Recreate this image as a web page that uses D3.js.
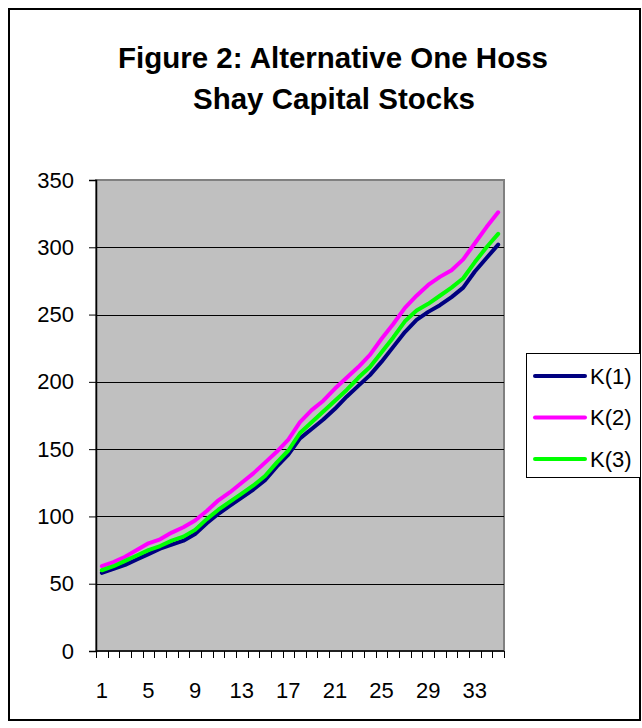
<!DOCTYPE html>
<html>
<head>
<meta charset="utf-8" />
<title>Figure 2</title>
<script src="https://cdn.jsdelivr.net/npm/d3@7"></script>
<style>
  html, body { margin: 0; padding: 0; background: #fff; }
  svg { display: block; font-family: "Liberation Sans", Arial, sans-serif; }
</style>
</head>
<body>
<div id="chart"></div>
<script>
// periods 1..35
const periods = d3.range(1, 36);
const k1 = [58, 61, 64, 68, 72, 76, 79, 82, 87, 95, 102, 108, 114, 120, 127, 137, 146, 158, 165, 172,
            180, 189, 197, 205, 215, 226, 237, 246, 252, 257, 263, 270, 282, 292, 302];
const k2 = [63, 66, 70, 75, 80, 83, 88, 92, 97, 104, 112, 118, 125, 132, 140, 148, 157, 170, 179, 186,
            195, 203, 211, 220, 232, 243, 255, 264, 272, 278, 283, 291, 303, 315, 326];
const k3 = [60, 63, 67, 71, 75, 78, 82, 85, 90, 98, 105, 111, 117, 123, 130, 140, 149, 162, 170, 178,
            186, 194, 203, 211, 222, 233, 245, 253, 258, 264, 270, 277, 289, 300, 310];
const seriesNames = ["K(1)", "K(2)", "K(3)"];
const seriesColors = ["#000080", "#ff00ff", "#00ff00"];
const yTicks = [0, 50, 100, 150, 200, 250, 300, 350];
const xLabels = [1, 5, 9, 13, 17, 21, 25, 29, 33];

const W = 642, H = 728;
const plot = {left: 96, right: 504, top: 180, bottom: 651};

const svg = d3.select("#chart").append("svg")
    .attr("width", W)
    .attr("height", H);

// outer frame
svg.append("rect")
    .attr("x", 9).attr("y", 9)
    .attr("width", 631).attr("height", 711)
    .attr("fill", "#fff")
    .attr("stroke", "#000")
    .attr("stroke-width", 2);

// title
const title = svg.append("text")
    .attr("text-anchor", "middle")
    .attr("font-weight", "bold")
    .attr("font-size", 29.5);
title.append("tspan").attr("x", 333).attr("y", 68).text("Figure 2: Alternative One Hoss");
title.append("tspan").attr("x", 334).attr("y", 109).text("Shay Capital Stocks");

const x = d3.scaleBand()
    .domain(periods)
    .range([plot.left, plot.right]);

const y = d3.scaleLinear()
    .domain([0, 350])
    .range([plot.bottom, plot.top]);

// plot background
svg.append("rect")
    .attr("x", plot.left).attr("y", plot.top)
    .attr("width", plot.right - plot.left)
    .attr("height", plot.bottom - plot.top)
    .attr("fill", "#c0c0c0")
    .attr("stroke", "#808080")
    .attr("stroke-width", 2);

// gridlines
svg.append("g")
    .selectAll("line")
    .data(yTicks.filter(d => d > 0 && d < 350))
    .enter().append("line")
    .attr("x1", plot.left).attr("x2", plot.right)
    .attr("y1", d => Math.round(y(d)) + 0.5)
    .attr("y2", d => Math.round(y(d)) + 0.5)
    .attr("stroke", "#000")
    .attr("stroke-width", 1);

// y axis
const yAxis = svg.append("g")
    .attr("transform", `translate(${plot.left},0)`)
    .call(d3.axisLeft(y).tickValues(yTicks).tickSize(7).tickPadding(15));
yAxis.selectAll("text").attr("font-size", 22).attr("fill", "#000")
    .style("font-family", "'Liberation Sans', Arial, sans-serif");
yAxis.select(".domain").attr("stroke", "#000").attr("stroke-width", 1.5);
yAxis.selectAll(".tick line").attr("stroke", "#000");

// x axis: ticks at category boundaries, labels every 4th
const bounds = d3.range(0, periods.length + 1).map(i => plot.left + i * x.step());
const xAxis = svg.append("g");
xAxis.append("line")
    .attr("x1", plot.left).attr("x2", plot.right)
    .attr("y1", plot.bottom).attr("y2", plot.bottom)
    .attr("stroke", "#000").attr("stroke-width", 1.5);
xAxis.selectAll(".xt")
    .data(bounds)
    .enter().append("line")
    .attr("x1", d => Math.round(d) + 0.5).attr("x2", d => Math.round(d) + 0.5)
    .attr("y1", plot.bottom).attr("y2", plot.bottom + 7)
    .attr("stroke", "#000");
xAxis.selectAll(".xl")
    .data(xLabels)
    .enter().append("text")
    .attr("x", d => x(d) + x.bandwidth() / 2)
    .attr("y", 698)
    .attr("text-anchor", "middle")
    .attr("font-size", 22)
    .text(d => d);

// lines
const line = d3.line()
    .x((d, i) => x(periods[i]) + x.bandwidth() / 2)
    .y(d => y(d));

const series = [k1, k2, k3];
svg.append("g")
    .selectAll("path")
    .data(series)
    .enter().append("path")
    .attr("d", line)
    .attr("fill", "none")
    .attr("stroke", (d, i) => seriesColors[i])
    .attr("stroke-width", 4)
    .attr("stroke-linejoin", "round")
    .attr("stroke-linecap", "round");

// legend
const legend = svg.append("g");
legend.append("rect")
    .attr("x", 526.5).attr("y", 353.5)
    .attr("width", 114).attr("height", 124)
    .attr("fill", "#fff")
    .attr("stroke", "#000");
const items = legend.selectAll(".item")
    .data(seriesNames)
    .enter().append("g")
    .attr("transform", (d, i) => `translate(0,${376 + i * 41.5})`);
items.append("line")
    .attr("x1", 535).attr("x2", 585)
    .attr("stroke", (d, i) => seriesColors[i])
    .attr("stroke-width", 4)
    .attr("stroke-linecap", "round");
items.append("text")
    .attr("x", 590)
    .attr("dy", "0.36em")
    .attr("font-size", 22)
    .text(d => d);
</script>
</body>
</html>
